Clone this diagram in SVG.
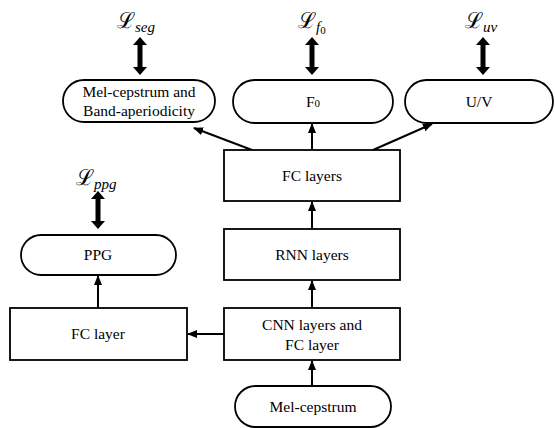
<svg xmlns="http://www.w3.org/2000/svg" width="555" height="428" viewBox="0 0 555 428">
<style>
.b{fill:#fff;stroke:#000;stroke-width:1.8}
text{font-family:"Liberation Serif","Times New Roman","DejaVu Serif",serif}
.t{font-size:15.5px;fill:#000;text-anchor:middle}
.m{font-family:"DejaVu Serif","Liberation Serif",serif;font-size:22px;fill:#000}
.s{font-family:"Liberation Serif","DejaVu Serif",serif;font-style:italic;font-size:15px}
.c{stroke:#000;stroke-width:2;fill:none;marker-end:url(#ah)}
.d{fill:#000}
</style>
<defs>
<marker id="ah" markerWidth="10" markerHeight="8" refX="9" refY="4" orient="auto" markerUnits="userSpaceOnUse">
<path d="M0,0 L10,4 L0,8 Z" fill="#000"/>
</marker>
<path id="dbl" d="M0,-19 L7,-11 L2.5,-11 L2.5,11 L7,11 L0,19 L-7,11 L-2.5,11 L-2.5,-11 L-7,-11 Z"/>
</defs>
<g id="connectors">
<line class="c" x1="312" y1="386" x2="312" y2="361"/>
<line class="c" x1="312" y1="308" x2="312" y2="281"/>
<line class="c" x1="312" y1="229" x2="312" y2="202"/>
<line class="c" x1="312" y1="150" x2="312" y2="124"/>
<line class="c" x1="252" y1="150" x2="194" y2="128"/>
<line class="c" x1="373" y1="150" x2="432" y2="124"/>
<line class="c" x1="224" y1="334" x2="188" y2="334"/>
<line class="c" x1="98" y1="308" x2="98" y2="276"/>
<use href="#dbl" class="d" x="140" y="56"/>
<use href="#dbl" class="d" x="312" y="56"/>
<use href="#dbl" class="d" x="483" y="56"/>
<use href="#dbl" class="d" x="98" y="210"/>
</g>
<g id="mel-cepstrum">
<rect class="b" x="235" y="386" width="156" height="41" rx="20.5"/>
<text class="t" x="313" y="412" font-family="Liberation Serif, serif">Mel-cepstrum</text>
</g>
<g id="cnn">
<rect class="b" x="224" y="308" width="176" height="52"/>
<text class="t" x="312" y="330">CNN layers and</text>
<text class="t" x="312" y="350">FC layer</text>
</g>
<g id="rnn">
<rect class="b" x="224" y="229" width="176" height="51"/>
<text class="t" x="312" y="260">RNN layers</text>
</g>
<g id="fc-layers">
<rect class="b" x="224" y="150" width="176" height="51"/>
<text class="t" x="312" y="181">FC layers</text>
</g>
<g id="fc-layer">
<rect class="b" x="10" y="308" width="177" height="52"/>
<text class="t" x="98" y="339">FC layer</text>
</g>
<g id="ppg">
<rect class="b" x="21" y="235" width="155" height="40" rx="20"/>
<text class="t" x="98" y="260">PPG</text>
<text class="m" x="76" y="185">ℒ<tspan class="s" dy="4">ppg</tspan></text>
</g>
<g id="mel-band">
<rect class="b" x="63" y="80" width="152" height="42" rx="21"/>
<text class="t" x="139" y="97">Mel-cepstrum and</text>
<text class="t" x="139" y="116">Band-aperiodicity</text>
<text class="m" x="117" y="28">ℒ<tspan class="s" dy="4">seg</tspan></text>
</g>
<g id="f0">
<rect class="b" x="233" y="80" width="160" height="43" rx="21.5"/>
<text class="t" x="313" y="107">F<tspan font-size="11">0</tspan></text>
<text class="m" x="298" y="28">ℒ<tspan class="s" dy="4">f</tspan><tspan font-family="Liberation Serif, serif" font-size="11" dy="2">0</tspan></text>
</g>
<g id="uv">
<rect class="b" x="405" y="80" width="148" height="43" rx="21.5"/>
<text class="t" x="479" y="107">U/V</text>
<text class="m" x="465" y="28">ℒ<tspan class="s" dy="4">uv</tspan></text>
</g>
</svg>
